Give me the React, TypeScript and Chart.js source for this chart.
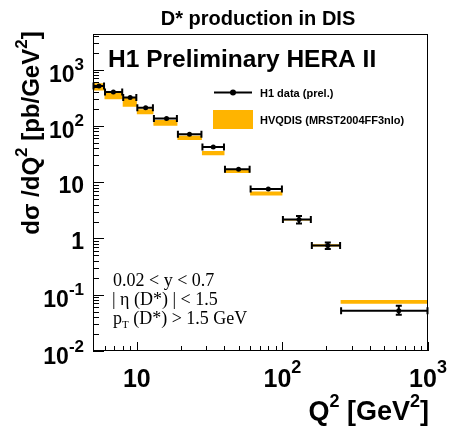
import { useEffect, useRef } from "react";
import { Chart, registerables } from "chart.js";

Chart.register(...registerables);

// ---- data ----
const binLow = [5, 6, 8, 10, 13, 19, 28, 40, 60, 100, 158, 251];
const binHigh = [6, 8, 10, 13, 19, 28, 40, 60, 100, 158, 251, 1000];
const pointQ2 = [5.5, 6.9, 9, 11.5, 16, 23, 33.5, 50, 80, 130, 205, 630];
const dataXsec = [510, 400, 320, 210, 135, 71, 42, 17, 7.6, 2.17, 0.75, 0.052];
const dataErrLow = [492, 386, 309, 203, 130, 68.5, 40.5, 16.3, 7.25, 1.85, 0.65, 0.044];
const dataErrHigh = [528, 414, 331, 217, 140, 73.5, 43.5, 17.7, 7.95, 2.5, 0.85, 0.064];
const theoryLow = [424, 298, 220, 161, 101, 56, 30, 14.5, 5.8, 2.08, 0.72, 0.069];
const theoryHigh = [573, 390, 314, 198, 128, 67, 36, 17, 6.8, 2.22, 0.79, 0.081];

const yTickValues = [0.01, 0.1, 1, 10, 100, 1000];
const yTickBase = ["10", "10", "1", "10", "10", "10"];
const yTickExp = ["-2", "-1", "", "", "2", "3"];
const xTickValues = [10, 100, 1000];
const xTickBase = ["10", "10", "10"];
const xTickExp = ["", "2", "3"];

const X_MIN = 5;
const X_MAX = 1000;
const Y_MIN = 0.01;
const Y_MAX = 4300;

const ORANGE = "#FFB400";
const SANS = '"Liberation Sans", Arial, Helvetica, sans-serif';
const SERIF = '"Liberation Serif", "Times New Roman", serif';

type Piece = { t: string; size: number; dy: number; family?: string; bold?: boolean };

function drawPieces(
  ctx: CanvasRenderingContext2D,
  pieces: Piece[],
  x: number,
  y: number,
  align: "left" | "right" | "center"
) {
  const fontOf = (p: Piece) =>
    `${p.bold === false ? "" : "bold "}${p.size}px ${p.family || SANS}`;
  const widths = pieces.map((p) => {
    ctx.font = fontOf(p);
    return ctx.measureText(p.t).width;
  });
  const total = widths.reduce((a, b) => a + b, 0);
  let sx = align === "left" ? x : align === "right" ? x - total : x - total / 2;
  ctx.textAlign = "left";
  ctx.textBaseline = "alphabetic";
  pieces.forEach((p, i) => {
    ctx.font = fontOf(p);
    ctx.fillText(p.t, sx, y + p.dy);
    sx += widths[i];
  });
}

function minorValues(min: number, max: number) {
  const out: number[] = [];
  for (let e = Math.floor(Math.log10(min)); e <= Math.ceil(Math.log10(max)); e++) {
    for (let m = 1; m <= 9; m++) {
      const v = m * Math.pow(10, e);
      if (v >= min * 0.999 && v <= max * 1.001) out.push(v);
    }
  }
  return out;
}

const isDecade = (v: number) => Math.abs(Math.log10(v) - Math.round(Math.log10(v))) < 1e-9;

const decorPlugin = {
  id: "decor",
  beforeDatasetDraw(chart: any, args: any) {
    if (args.index !== 0) return;
    const ctx: CanvasRenderingContext2D = chart.ctx;
    const xs = chart.scales.x;
    const ys = chart.scales.y;
    ctx.save();
    ctx.strokeStyle = "#000";
    ctx.lineWidth = 2;
    for (let i = 0; i < dataXsec.length; i++) {
      const x0 = xs.getPixelForValue(binLow[i]);
      const x1 = xs.getPixelForValue(binHigh[i]);
      const px = xs.getPixelForValue(pointQ2[i]);
      const py = ys.getPixelForValue(dataXsec[i]);
      const yLo = ys.getPixelForValue(dataErrLow[i]);
      const yHi = ys.getPixelForValue(dataErrHigh[i]);
      ctx.beginPath();
      ctx.moveTo(x0, py);
      ctx.lineTo(x1, py);
      ctx.moveTo(x0 + 0.5, py - 3.5);
      ctx.lineTo(x0 + 0.5, py + 3.5);
      ctx.moveTo(x1 - 0.5, py - 3.5);
      ctx.lineTo(x1 - 0.5, py + 3.5);
      ctx.stroke();
      if (yLo - yHi > 4) {
        ctx.beginPath();
        ctx.moveTo(px, yLo);
        ctx.lineTo(px, yHi);
        ctx.moveTo(px - 3, yLo);
        ctx.lineTo(px + 3, yLo);
        ctx.moveTo(px - 3, yHi);
        ctx.lineTo(px + 3, yHi);
        ctx.stroke();
      }
    }
    ctx.restore();
  },
  afterDraw(chart: any) {
    const ctx: CanvasRenderingContext2D = chart.ctx;
    const a = chart.chartArea;
    const xs = chart.scales.x;
    const ys = chart.scales.y;
    ctx.save();
    ctx.fillStyle = "#000";
    ctx.strokeStyle = "#000";
    ctx.lineWidth = 1;
    ctx.strokeRect(a.left + 0.5, a.top + 0.5, a.right - a.left - 1, a.bottom - a.top - 1);

    ctx.beginPath();
    for (const v of minorValues(Y_MIN, Y_MAX)) {
      const y = Math.round(ys.getPixelForValue(v)) + 0.5;
      ctx.moveTo(a.left, y);
      ctx.lineTo(a.left + (isDecade(v) ? 11 : 6), y);
    }
    for (const v of minorValues(X_MIN, X_MAX)) {
      const x = Math.round(xs.getPixelForValue(v)) + 0.5;
      ctx.moveTo(x, a.bottom);
      ctx.lineTo(x, a.bottom - (isDecade(v) ? 9 : 5));
    }
    ctx.stroke();

    // y tick labels
    yTickValues.forEach((v, i) => {
      const y = ys.getPixelForValue(v);
      const exp = yTickExp[i];
      const pieces: Piece[] = [{ t: yTickBase[i], size: 23, dy: 0 }];
      if (exp) pieces.push({ t: exp, size: 17, dy: -12 });
      drawPieces(ctx, pieces, 84, y + (exp ? 12.5 : 10.5), "right");
    });
    // x tick labels
    xTickValues.forEach((v, i) => {
      const x = xs.getPixelForValue(v);
      const exp = xTickExp[i];
      const pieces: Piece[] = [{ t: xTickBase[i], size: 25, dy: 0 }];
      if (exp) pieces.push({ t: exp, size: 18, dy: -14 });
      drawPieces(ctx, pieces, x, 387, "center");
    });

    // titles
    drawPieces(ctx, [{ t: "D* production in DIS", size: 20, dy: 0 }], 258, 25, "center");
    drawPieces(ctx, [{ t: "H1 Preliminary HERA II", size: 24.5, dy: 0 }], 108, 66.5, "left");

    // x axis title
    drawPieces(
      ctx,
      [
        { t: "Q", size: 27, dy: 0 },
        { t: "2", size: 18, dy: -13 },
        { t: " [GeV", size: 27, dy: 0 },
        { t: "2", size: 18, dy: -13 },
        { t: "]", size: 27, dy: 0 },
      ],
      429,
      420,
      "right"
    );

    // y axis title (rotated)
    ctx.save();
    ctx.translate(39, 133);
    ctx.rotate(-Math.PI / 2);
    drawPieces(
      ctx,
      [
        { t: "d\u03c3 /dQ", size: 24, dy: 0 },
        { t: "2", size: 17, dy: -12 },
        { t: " [pb/GeV", size: 24, dy: 0 },
        { t: "2", size: 17, dy: -12 },
        { t: "]", size: 24, dy: 0 },
      ],
      0,
      0,
      "center"
    );
    ctx.restore();

    // legend
    ctx.lineWidth = 2;
    ctx.beginPath();
    ctx.moveTo(214, 92.5);
    ctx.lineTo(252, 92.5);
    ctx.stroke();
    ctx.beginPath();
    ctx.arc(233, 92.5, 3, 0, Math.PI * 2);
    ctx.fill();
    drawPieces(ctx, [{ t: "H1 data (prel.)", size: 11, dy: 0 }], 260, 97, "left");
    ctx.fillStyle = ORANGE;
    ctx.fillRect(213, 110, 40, 19);
    ctx.fillStyle = "#000";
    drawPieces(ctx, [{ t: "HVQDIS (MRST2004FF3nlo)", size: 11, dy: 0 }], 260, 123.5, "left");

    // cuts text
    drawPieces(ctx, [{ t: "0.02 < y < 0.7", size: 18, dy: 0, family: SERIF, bold: false }], 113, 286, "left");
    drawPieces(ctx, [{ t: "| \u03b7 (D*) | < 1.5", size: 18, dy: 0, family: SERIF, bold: false }], 112, 305, "left");
    drawPieces(
      ctx,
      [
        { t: "p", size: 18, dy: 0, family: SERIF, bold: false },
        { t: "T", size: 11, dy: 4, family: SERIF, bold: false },
        { t: " (D*) > 1.5 GeV", size: 18, dy: 0, family: SERIF, bold: false },
      ],
      113,
      324,
      "left"
    );
    ctx.restore();
  },
};

export default function App() {
  const ref = useRef<HTMLCanvasElement | null>(null);
  useEffect(() => {
    if (!ref.current) return;
    const boxes = binLow.map((lo, i) => ({
      type: "line" as const,
      data: [
        { x: lo, y: theoryLow[i] },
        { x: binHigh[i], y: theoryLow[i] },
        { x: binHigh[i], y: theoryHigh[i] },
        { x: lo, y: theoryHigh[i] },
        { x: lo, y: theoryLow[i] },
      ],
      backgroundColor: ORANGE,
      borderColor: ORANGE,
      borderWidth: 0,
      pointRadius: 0,
      fill: "shape",
      tension: 0,
    }));
    const chart = new Chart(ref.current, {
      type: "scatter",
      data: {
        datasets: [
          {
            type: "scatter",
            data: pointQ2.map((q, i) => ({ x: q, y: dataXsec[i] })),
            backgroundColor: "#000",
            borderColor: "#000",
            pointRadius: 2.5,
            borderWidth: 0,
          } as any,
          ...(boxes as any[]),
        ],
      },
      options: {
        animation: false,
        responsive: false,
        events: [],
        layout: { padding: { left: 93, right: 22, top: 34, bottom: 76 } },
        plugins: { legend: { display: false }, tooltip: { enabled: false }, title: { display: false } },
        scales: {
          x: { type: "logarithmic", min: X_MIN, max: X_MAX, display: false },
          y: { type: "logarithmic", min: Y_MIN, max: Y_MAX, display: false },
        },
      },
      plugins: [decorPlugin],
    });
    return () => chart.destroy();
  }, []);
  return (
    <div style={{ position: "fixed", left: 0, top: 0, width: 450, height: 427, background: "#fff" }}>
      <canvas ref={ref} width={450} height={427} style={{ width: 450, height: 427 }} />
    </div>
  );
}
